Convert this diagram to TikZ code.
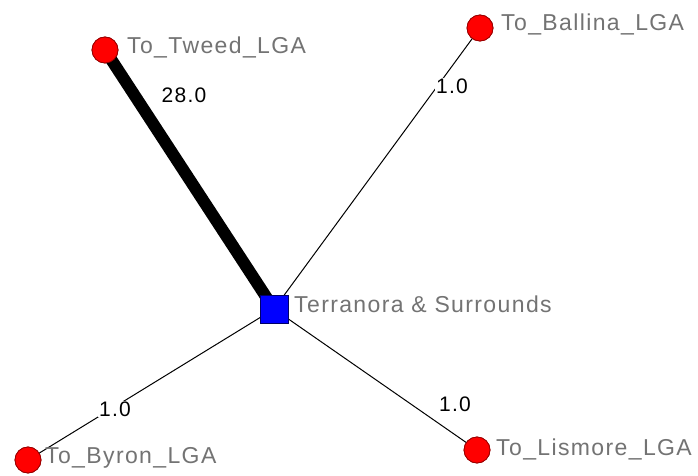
\documentclass[tikz,border=0pt]{standalone}
\usepackage{fontspec}
\setmainfont{Liberation Sans}
\newfontfamily\spaced[LetterSpace=6]{Liberation Sans}
\begin{document}
\begin{tikzpicture}[x=1pt,y=-1pt,
  place/.style={circle,fill=red,draw=red!60!black,line width=0.8pt,minimum size=26pt,inner sep=0pt},
  hub/.style={rectangle,fill=blue,draw=blue!40!black,line width=0.8pt,minimum size=28pt,inner sep=0pt},
  lbl/.style={text=black!55,font=\spaced\fontsize{23}{23}\selectfont,anchor=west,inner sep=0pt},
  elbl/.style={text=black,font=\spaced\fontsize{21}{21}\selectfont,inner sep=1pt,fill=white},
  link/.style={draw=black,line width=1pt}]
\useasboundingbox (0,0) rectangle (698,476);
\fill[white] (0,0) rectangle (698,476);
\node[place] (tw) at (105,50) {};
\node[place] (ba) at (480,28) {};
\node[hub] (te) at (274,309) {};
\node[place] (by) at (28,460) {};
\node[place] (li) at (477,450) {};
\draw[link,line width=12pt] (tw.center) -- (te.center);
\draw[link] (ba.center) -- (te.center);
\draw[link] (by.center) -- (te.center);
\draw[link] (li.center) -- (te.center);
\node[place] at (105,50) {};
\node[place] at (480,28) {};
\node[hub] at (274,309) {};
\node[place] at (28,460) {};
\node[place] at (477,450) {};
\node[lbl] (twl) at (127,47) {To\_Tweed\_LGA};
\node[lbl] (bal) at (501,24) {To\_Ballina\_LGA};
\node[lbl] (tel) at (294,304) {Terranora \& Surrounds};
\node[lbl] (byl) at (45,458) {To\_Byron\_LGA};
\node[lbl] (lil) at (496,449) {To\_Lismore\_LGA};
\node[elbl] (e1) at (184,95) {28.0};
\node[elbl] (e2) at (452,86) {1.0};
\node[elbl] (e3) at (115,409) {1.0};
\node[elbl] (e4) at (455,404) {1.0};
\end{tikzpicture}
\end{document}
